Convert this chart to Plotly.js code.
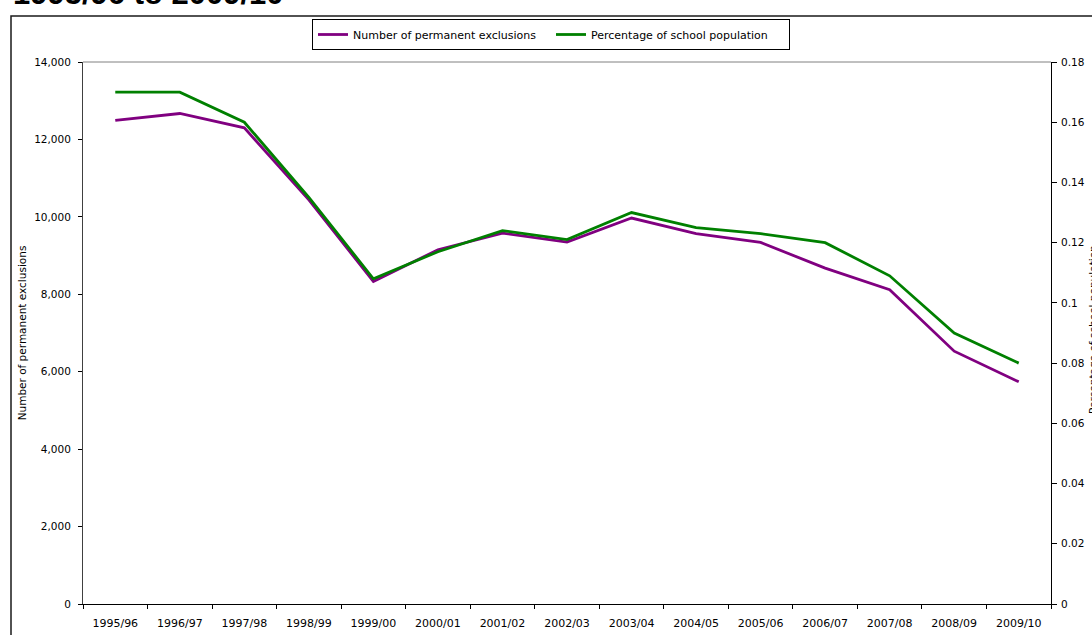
<!DOCTYPE html>
<html>
<head>
<meta charset="utf-8">
<script src="https://cdn.plot.ly/plotly-3.0.1.min.js"></script>
<style>
html,body{margin:0;padding:0;background:#fff;}
#chart{width:1092px;height:635px;}
</style>
</head>
<body>
<div id="chart"></div>
<script>
const years = ["1995/96","1996/97","1997/98","1998/99","1999/00","2000/01","2001/02","2002/03","2003/04","2004/05","2005/06","2006/07","2007/08","2008/09","2009/10"];
const exclusions = [12490,12670,12300,10440,8330,9150,9580,9350,9970,9565,9340,8675,8120,6530,5740];
const percentage = [0.170,0.170,0.160,0.135,0.108,0.117,0.124,0.121,0.130,0.125,0.123,0.120,0.109,0.090,0.080];

const W = 1092, H = 635;
const L = 83, R = 1051, T = 62, B = 604;
const px = x => (x - L) / (R - L);
const py = y => (B - y) / (B - T);

const font = "'DejaVu Sans', Verdana, sans-serif";

const traces = [
  {x: years, y: exclusions, type: 'scatter', mode: 'lines', name: 'Number of permanent exclusions',
   line: {color: '#800080', width: 2.8}, xaxis: 'x', yaxis: 'y'},
  {x: years, y: percentage, type: 'scatter', mode: 'lines', name: 'Percentage of school population',
   line: {color: '#008000', width: 2.8}, xaxis: 'x', yaxis: 'y2'}
];

const layout = {
  width: W, height: H,
  margin: {l: L, r: W - R, t: T, b: H - B, pad: 0},
  paper_bgcolor: '#fff', plot_bgcolor: '#fff',
  font: {family: font, size: 10.5, color: '#000'},
  showlegend: true,
  legend: {
    orientation: 'h', x: px(312), y: py(19), xanchor: 'left', yanchor: 'top',
    bordercolor: '#000', borderwidth: 1, bgcolor: '#fff',
    font: {family: font, size: 11, color: '#000'},
    entrywidth: 193, entrywidthmode: 'pixels', itemwidth: 30,
    tracegroupgap: 0
  },
  xaxis: {
    type: 'category', range: [-0.5, 14.5], tickson: 'boundaries',
    showline: true, linecolor: '#000', linewidth: 1,
    ticks: 'outside', ticklen: 4, tickcolor: '#000', tickwidth: 1,
    ticklabelstandoff: 9,
    showgrid: false, zeroline: false, fixedrange: true,
    tickfont: {family: font, size: 11, color: '#000'}
  },
  yaxis: {
    range: [0, 14000], dtick: 2000, tickformat: ',d',
    showline: true, linecolor: '#404040', linewidth: 1,
    ticks: 'outside', ticklen: 4, tickcolor: '#000',
    ticklabelstandoff: 5,
    showgrid: false, zeroline: false,
    tickfont: {family: font, size: 10.5, color: '#000'},
    title: {text: 'Number of permanent exclusions', font: {family: font, size: 10.5, color: '#000'}, standoff: 5}
  },
  yaxis2: {
    overlaying: 'y', side: 'right', range: [0, 0.18], dtick: 0.02,
    showline: true, linecolor: '#000', linewidth: 1,
    ticks: 'outside', ticklen: 5, tickcolor: '#000',
    ticklabelstandoff: 2,
    showgrid: false, zeroline: false,
    tickfont: {family: font, size: 10.5, color: '#000'}
  },
  shapes: [
    {type: 'line', xref: 'paper', yref: 'paper', x0: 0, x1: 1, y0: 1, y1: 1,
     line: {color: '#808080', width: 1}},
    {type: 'rect', xref: 'paper', yref: 'paper', x0: px(11), x1: px(1100), y0: py(16), y1: py(645),
     line: {color: '#1a1a1a', width: 1.5}}
  ],
  annotations: [
    {text: '<b>1995/96 to 2009/10</b>', xref: 'paper', yref: 'paper', x: px(11), y: py(-6),
     xanchor: 'left', yanchor: 'middle', showarrow: false,
     font: {family: "'Liberation Sans', Arial, sans-serif", size: 31, color: '#000'}},
    {text: 'Percentage of school population', xref: 'paper', yref: 'paper', x: px(1085), y: py(330),
     xanchor: 'left', yanchor: 'middle', showarrow: false, textangle: -90,
     font: {family: font, size: 10.5, color: '#000'}}
  ]
};

Plotly.newPlot('chart', traces, layout, {displayModeBar: false, staticPlot: true});
</script>
</body>
</html>
